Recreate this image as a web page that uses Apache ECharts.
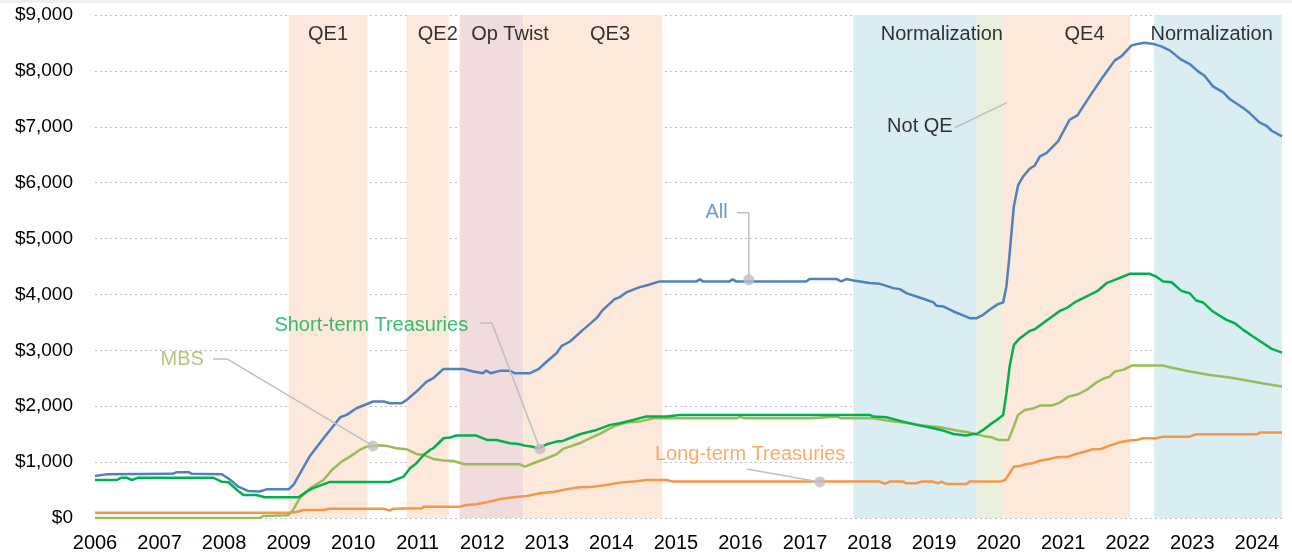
<!DOCTYPE html>
<html>
<head>
<meta charset="utf-8">
<script src="https://cdn.jsdelivr.net/npm/echarts@6/dist/echarts.min.js"></script>
<style>
  html, body { margin: 0; padding: 0; background: #fff; }
  #chart { width: 1292px; height: 556px; }
</style>
</head>
<body>
<div id="chart"></div>
<script>
// holdings, $ billions, [year, value]
var allData = [[2006.0,750],[2006.2,785],[2007.2,790],[2007.27,820],[2007.45,820],[2007.5,790],[2007.96,785],[2008.05,720],[2008.12,660],[2008.22,560],[2008.37,484],[2008.55,475],[2008.66,513],[2009.0,513],[2009.08,600],[2009.33,1110],[2009.54,1427],[2009.8,1803],[2009.9,1845],[2010.05,1964],[2010.31,2084],[2010.47,2084],[2010.57,2054],[2010.75,2054],[2010.83,2113],[2010.98,2263],[2011.14,2442],[2011.24,2501],[2011.4,2668],[2011.7,2668],[2011.86,2621],[2012.01,2591],[2012.06,2639],[2012.13,2591],[2012.27,2633],[2012.43,2633],[2012.5,2591],[2012.74,2591],[2012.87,2662],[2013.0,2800],[2013.15,2949],[2013.23,3080],[2013.36,3158],[2013.56,3367],[2013.77,3576],[2013.87,3725],[2014.05,3916],[2014.13,3952],[2014.23,4036],[2014.44,4131],[2014.54,4160],[2014.75,4233],[2015.32,4233],[2015.37,4270],[2015.42,4233],[2015.83,4233],[2015.88,4270],[2015.93,4233],[2017.02,4233],[2017.07,4275],[2017.49,4275],[2017.56,4233],[2017.64,4275],[2017.75,4250],[2018.0,4203],[2018.16,4190],[2018.37,4113],[2018.47,4095],[2018.57,4024],[2018.83,3922],[2018.99,3857],[2019.04,3797],[2019.14,3785],[2019.3,3695],[2019.45,3624],[2019.55,3576],[2019.66,3576],[2019.76,3636],[2019.86,3725],[2019.99,3827],[2020.07,3857],[2020.12,4143],[2020.16,4600],[2020.235,5574],[2020.30,5950],[2020.38,6111],[2020.48,6248],[2020.56,6308],[2020.64,6469],[2020.74,6529],[2020.92,6738],[2021.1,7126],[2021.22,7204],[2021.41,7544],[2021.62,7901],[2021.8,8188],[2021.9,8260],[2022.06,8457],[2022.15,8481],[2022.26,8504],[2022.42,8475],[2022.52,8439],[2022.65,8367],[2022.83,8200],[2022.96,8123],[2023.09,7991],[2023.19,7914],[2023.32,7723],[2023.48,7615],[2023.58,7496],[2023.79,7335],[2023.89,7246],[2024.04,7078],[2024.15,7018],[2024.23,6929],[2024.39,6827]];

var shortData = [[2006.0,680],[2006.34,680],[2006.41,722],[2006.49,722],[2006.57,680],[2006.67,722],[2007.83,722],[2007.96,650],[2008.07,639],[2008.2,501],[2008.3,412],[2008.5,412],[2008.63,370],[2009.15,370],[2009.28,472],[2009.36,525],[2009.64,645],[2010.57,645],[2010.78,740],[2010.88,890],[2010.98,979],[2011.09,1128],[2011.19,1218],[2011.24,1248],[2011.4,1427],[2011.5,1439],[2011.6,1475],[2011.91,1475],[2012.07,1397],[2012.22,1397],[2012.43,1337],[2012.56,1325],[2012.66,1295],[2012.76,1278],[2012.87,1248],[2013.0,1319],[2013.15,1367],[2013.25,1379],[2013.51,1498],[2013.77,1576],[2013.98,1666],[2014.13,1695],[2014.34,1755],[2014.54,1815],[2014.85,1815],[2015.06,1845],[2018.0,1845],[2018.06,1815],[2018.26,1803],[2018.52,1725],[2018.73,1666],[2018.99,1606],[2019.14,1564],[2019.3,1504],[2019.5,1475],[2019.6,1504],[2019.66,1504],[2019.76,1576],[2019.86,1666],[2019.97,1755],[2020.07,1844],[2020.12,2232],[2020.17,2710],[2020.235,3097],[2020.33,3217],[2020.48,3348],[2020.56,3378],[2020.77,3557],[2020.95,3706],[2021.05,3754],[2021.2,3873],[2021.41,3993],[2021.54,4070],[2021.67,4201],[2021.8,4261],[2021.93,4321],[2022.03,4369],[2022.34,4369],[2022.44,4321],[2022.55,4231],[2022.68,4219],[2022.83,4064],[2022.96,4022],[2023.06,3891],[2023.17,3855],[2023.32,3694],[2023.53,3545],[2023.66,3485],[2023.79,3366],[2023.94,3247],[2024.1,3127],[2024.23,3026],[2024.39,2960]];

var mbsData = [[2006.0,0],[2008.56,0],[2008.6,36],[2008.99,48],[2009.07,143],[2009.17,352],[2009.33,531],[2009.54,681],[2009.67,860],[2009.82,1009],[2009.95,1098],[2010.1,1218],[2010.21,1277],[2010.41,1301],[2010.52,1290],[2010.67,1248],[2010.83,1230],[2010.98,1146],[2011.09,1128],[2011.24,1057],[2011.4,1027],[2011.55,1021],[2011.73,961],[2012.58,961],[2012.66,919],[2012.79,979],[2013.0,1069],[2013.15,1140],[2013.25,1236],[2013.51,1337],[2013.67,1427],[2013.82,1504],[2014.03,1636],[2014.23,1707],[2014.44,1725],[2014.65,1785],[2015.37,1785],[2015.4,1815],[2015.45,1785],[2015.95,1785],[2016.0,1815],[2016.05,1785],[2017.1,1785],[2017.13,1815],[2017.5,1815],[2017.55,1785],[2018.06,1785],[2018.26,1743],[2018.52,1707],[2018.83,1654],[2019.1,1624],[2019.35,1564],[2019.55,1528],[2019.76,1469],[2019.91,1439],[2019.99,1397],[2020.15,1397],[2020.22,1593],[2020.3,1844],[2020.405,1934],[2020.53,1958],[2020.64,2011],[2020.82,2011],[2020.95,2065],[2021.08,2172],[2021.23,2214],[2021.36,2292],[2021.52,2429],[2021.64,2501],[2021.72,2530],[2021.8,2620],[2021.93,2650],[2022.06,2727],[2022.55,2727],[2022.65,2697],[2022.96,2620],[2023.27,2560],[2023.58,2513],[2023.89,2453],[2024.15,2399],[2024.39,2351]];

var longData = [[2006.0,96],[2009.02,96],[2009.12,107],[2009.23,143],[2009.54,143],[2009.64,167],[2010.47,167],[2010.57,131],[2010.62,167],[2011.06,173],[2011.1,203],[2011.65,203],[2011.76,233],[2011.91,245],[2012.07,281],[2012.27,334],[2012.48,370],[2012.69,394],[2012.89,442],[2013.1,466],[2013.31,513],[2013.51,549],[2013.72,561],[2013.92,591],[2014.13,633],[2014.34,651],[2014.54,681],[2014.85,681],[2014.96,651],[2018.16,651],[2018.24,609],[2018.31,651],[2018.52,651],[2018.57,621],[2018.73,621],[2018.8,651],[2018.98,651],[2019.06,621],[2019.11,651],[2019.19,609],[2019.5,609],[2019.55,651],[2020.02,651],[2020.1,680],[2020.17,800],[2020.235,919],[2020.33,931],[2020.43,967],[2020.53,979],[2020.64,1026],[2020.77,1050],[2020.9,1086],[2021.08,1098],[2021.2,1146],[2021.36,1194],[2021.46,1229],[2021.59,1235],[2021.72,1295],[2021.88,1355],[2022.03,1385],[2022.14,1397],[2022.24,1426],[2022.44,1426],[2022.55,1456],[2022.96,1456],[2023.06,1498],[2024.0,1498],[2024.05,1528],[2024.39,1528]];

// policy periods
var bandStart = [2009.0, 2010.83, 2011.65, 2012.64, 2017.75, 2019.66, 2020.07, 2022.41];
var bandEnd   = [2010.22, 2011.48, 2012.64, 2014.79, 2019.66, 2020.07, 2022.04, 2024.39];
var bandColor = ['#fce9db', '#fce9db', '#f0dcdc', '#fce9db', '#daedf3', '#ebf0de', '#fce9db', '#daedf3'];

// period titles [year, value, text]
var bandTitles = [[2009.61,8657,'QE1'],[2011.31,8657,'QE2'],[2012.43,8657,'Op Twist'],[2013.98,8657,'QE3'],[2019.12,8657,'Normalization'],[2021.33,8657,'QE4'],[2023.30,8657,'Normalization']];

// callouts
var notes = [[2015.63,5461,'All','#4f81bd'],[2010.28,3438,'Short-term Treasuries','#00b050'],[2007.35,2829,'MBS','#9bbb59'],[2016.15,1128,'Long-term Treasuries','#f79646'],[2018.78,7001,'Not QE','#000000']];
var leaders = [
    [[2015.944,5461],[2016.13,5461],[2016.13,4261]],
    [[2011.963,3491],[2012.149,3491],[2012.893,1235]],
    [[2007.828,2847],[2008.045,2847],[2010.306,1289]],
    [[2016.099,877],[2017.23,645]],
    [[2019.321,6983],[2020.127,7431]]
];
var dots = [[2016.13,4261],[2012.893,1235],[2010.306,1289],[2017.23,645]];

var FONT = '"Liberation Sans", Arial, sans-serif';

var areas = [];
for (var i = 0; i < bandStart.length; i++) {
    areas.push([{xAxis: bandStart[i], itemStyle: {color: bandColor[i]}}, {xAxis: bandEnd[i]}]);
}

var series = [{
    type: 'scatter',
    z: 1,
    silent: true,
    symbolSize: 1,
    itemStyle: {color: 'transparent'},
    data: bandTitles.map(function (b) { return {value: [b[0], b[1]], name: b[2]}; }),
    label: {
        show: true,
        position: 'inside',
        formatter: '{b}',
        color: '#000',
        textBorderWidth: 0,
        fontFamily: FONT,
        fontSize: 20
    },
    markArea: {silent: true, data: areas}
}];

var lines = [['All', allData, '#4f81bd'], ['Short-term Treasuries', shortData, '#00b050'], ['MBS', mbsData, '#9bbb59'], ['Long-term Treasuries', longData, '#f79646']];
lines.reverse().forEach(function (l) {
    series.push({
        name: l[0],
        type: 'line',
        z: 3,
        data: l[1],
        symbol: 'none',
        lineStyle: {color: l[2], width: 2.5},
        itemStyle: {color: l[2]}
    });
});

leaders.forEach(function (d) {
    series.push({
        type: 'line',
        z: 4,
        silent: true,
        data: d,
        symbol: 'none',
        lineStyle: {color: '#bfbfbf', width: 1.5}
    });
});

series.push({
    type: 'scatter',
    z: 5,
    silent: true,
    symbolSize: 11,
    itemStyle: {color: '#bfbfbf'},
    data: dots
});

series.push({
    type: 'scatter',
    z: 5,
    silent: true,
    symbolSize: 1,
    itemStyle: {color: 'transparent'},
    data: notes.map(function (n) {
        return {value: [n[0], n[1]], name: n[2], label: {color: n[3]}};
    }),
    label: {
        show: true,
        position: 'inside',
        formatter: '{b}',
        textBorderWidth: 0,
        fontFamily: FONT,
        fontSize: 20
    }
});

var chart = echarts.init(document.getElementById('chart'));
chart.setOption({
    animation: false,
    backgroundColor: '#fff',
    graphic: [{type: 'rect', left: 0, top: 0, shape: {width: 1292, height: 3}, style: {fill: '#f0f0f0'}}],
    grid: {left: 95, right: 10, top: 15, bottom: 38},
    xAxis: {
        type: 'value',
        min: 2006,
        max: 2024.39,
        interval: 1,
        axisLine: {show: false},
        axisTick: {show: false},
        splitLine: {show: false},
        axisLabel: {
            margin: 15,
            color: '#000',
            fontFamily: FONT,
            fontSize: 20,
            showMaxLabel: false,
            formatter: function (v) { return Math.abs(v - Math.round(v)) < 1e-6 ? String(Math.round(v)) : ''; }
        }
    },
    yAxis: {
        type: 'value',
        min: 0,
        max: 9000,
        interval: 1000,
        axisLine: {show: false},
        axisTick: {show: false},
        splitLine: {lineStyle: {color: '#bfbfbf', type: [2, 3], width: 1}},
        axisLabel: {
            margin: 22,
            color: '#000',
            fontFamily: FONT,
            fontSize: 19,
            formatter: function (v) { return '$' + v.toLocaleString('en-US'); }
        }
    },
    series: series
});
</script>
</body>
</html>
